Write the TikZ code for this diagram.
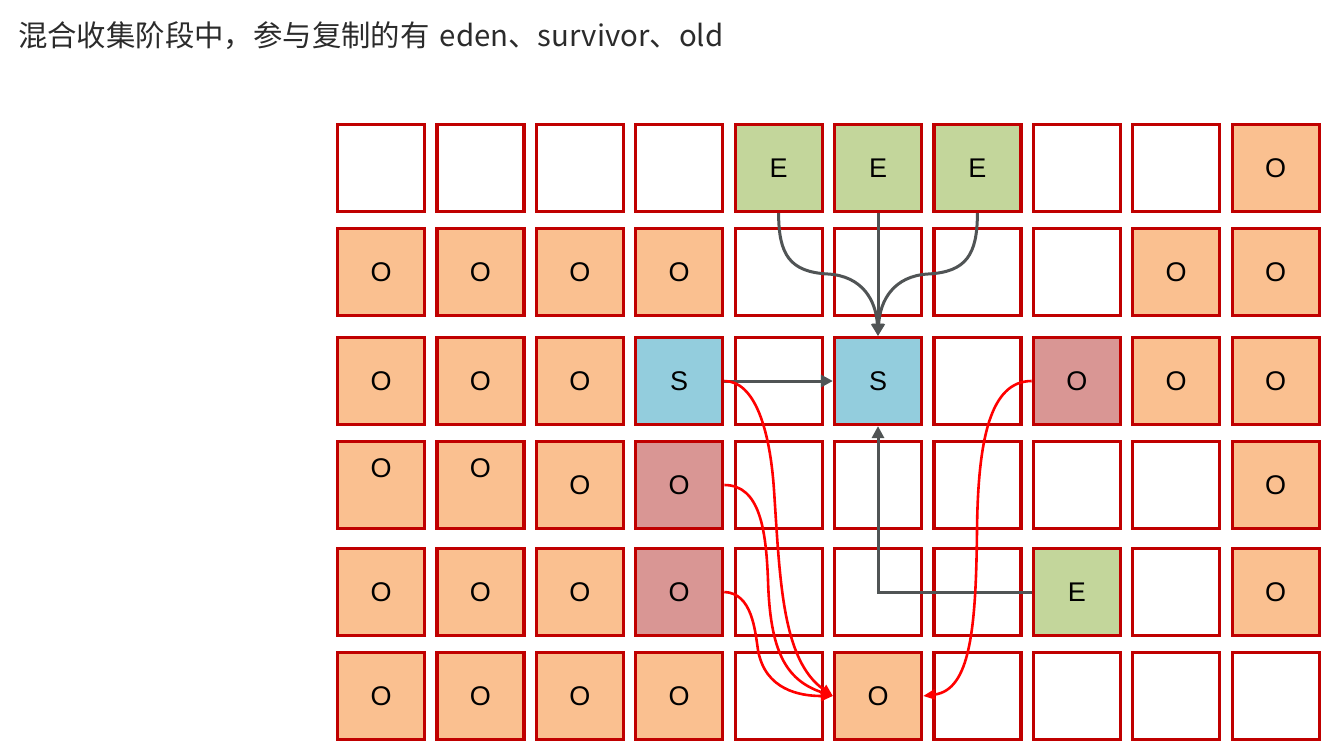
\documentclass[tikz,border=0pt]{standalone}
\usepackage{fontspec}
\setmainfont{Liberation Sans}
\newfontfamily\cjk{Noto Sans CJK SC}
\usetikzlibrary{arrows.meta}
\definecolor{cellborder}{HTML}{C00000}
\definecolor{oldfill}{HTML}{FAC090}
\definecolor{edenfill}{HTML}{C3D69B}
\definecolor{survfill}{HTML}{93CDDD}
\definecolor{pinkfill}{HTML}{D99694}
\definecolor{arrowgray}{HTML}{505455}
\definecolor{titlecol}{HTML}{2B2B2B}
\tikzset{
  cell/.style={draw=cellborder, line width=3.2pt, minimum width=87pt, minimum height=87pt,
    inner sep=0pt, font=\fontsize{27}{31}\selectfont, text=black},
  emptycell/.style={fill=white},
  oldcell/.style={fill=oldfill},
  oldhigh/.style={fill=oldfill, text height=0pt, text depth=14.4pt},
  edencell/.style={fill=edenfill},
  survcell/.style={fill=survfill},
  pinkcell/.style={fill=pinkfill},
  grayarrow/.style={draw=arrowgray, line width=3pt, -{Triangle[length=12pt,width=12pt]}},
  redarrow/.style={draw=red, line width=2.6pt, -{Triangle[length=12pt,width=10pt]}}
}
\begin{document}
\begin{tikzpicture}[x=1pt,y=-1pt]
\useasboundingbox (0,0) rectangle (1323,742);
\node[anchor=base west, inner sep=0pt, text=titlecol, font=\cjk\fontsize{29.4}{35}\selectfont] (title) at (18,46) {混合收集阶段中，参与复制的有\hspace{10pt}eden、survivor、old};
% row 1
\foreach \c/\s/\t in {1/emptycell/{},2/emptycell/{},3/emptycell/{},4/emptycell/{},5/edencell/E,6/edencell/E,7/edencell/E,8/emptycell/{},9/emptycell/{},10/oldcell/O}
  \node[cell,\s] (c1-\c) at ({381+99.4*(\c-1)},168) {\t};
% row 2
\foreach \c/\s/\t in {1/oldcell/O,2/oldcell/O,3/oldcell/O,4/oldcell/O,5/emptycell/{},6/emptycell/{},7/emptycell/{},8/emptycell/{},9/oldcell/O,10/oldcell/O}
  \node[cell,\s] (c2-\c) at ({381+99.4*(\c-1)},272) {\t};
% row 3
\foreach \c/\s/\t in {1/oldcell/O,2/oldcell/O,3/oldcell/O,4/survcell/S,5/emptycell/{},6/survcell/S,7/emptycell/{},8/pinkcell/O,9/oldcell/O,10/oldcell/O}
  \node[cell,\s] (c3-\c) at ({381+99.4*(\c-1)},381) {\t};
% row 4
\foreach \c/\s/\t in {1/oldhigh/O,2/oldhigh/O,3/oldcell/O,4/pinkcell/O,5/emptycell/{},6/emptycell/{},7/emptycell/{},8/emptycell/{},9/emptycell/{},10/oldcell/O}
  \node[cell,\s] (c4-\c) at ({381+99.4*(\c-1)},485) {\t};
% row 5
\foreach \c/\s/\t in {1/oldcell/O,2/oldcell/O,3/oldcell/O,4/pinkcell/O,5/emptycell/{},6/emptycell/{},7/emptycell/{},8/edencell/E,9/emptycell/{},10/oldcell/O}
  \node[cell,\s] (c5-\c) at ({381+99.4*(\c-1)},592) {\t};
% row 6
\foreach \c/\s/\t in {1/oldcell/O,2/oldcell/O,3/oldcell/O,4/oldcell/O,5/emptycell/{},6/oldcell/O,7/emptycell/{},8/emptycell/{},9/emptycell/{},10/emptycell/{}}
  \node[cell,\s] (c6-\c) at ({381+99.4*(\c-1)},696) {\t};

% gray arrows: eden -> survivor
\draw[grayarrow] (c1-5.south) .. controls (778.6,255) and (790,272) .. (828,274)
  .. controls (862,276) and (876,300) .. (c3-6.north);
\draw[grayarrow] (c1-7.south) .. controls (977.4,255) and (966,272) .. (928,274)
  .. controls (894,276) and (880,300) .. (c3-6.north);
\draw[grayarrow] (c1-6.south) -- (c3-6.north);
\draw[grayarrow] (c3-4.east) -- (c3-6.west);
\draw[grayarrow] (c5-8.west) -| (c3-6.south);

% red arrows -> old
\draw[redarrow] (c3-4.east) .. controls (755,381) and (770,430) .. (774,490)
  .. controls (780,580) and (782,660) .. (c6-6.west);
\draw[redarrow] (c4-4.east) .. controls (760,485) and (766,530) .. (768,580)
  .. controls (770,650) and (785,680) .. (c6-6.west);
\draw[redarrow] (c5-4.east) .. controls (752,593) and (755,630) .. (758,650)
  .. controls (765,690) and (800,696) .. (c6-6.west);
\draw[redarrow] (c3-8.west) .. controls (990,381) and (978,440) .. (977,530)
  .. controls (976,630) and (970,690) .. (c6-6.east);
\end{tikzpicture}
\end{document}
